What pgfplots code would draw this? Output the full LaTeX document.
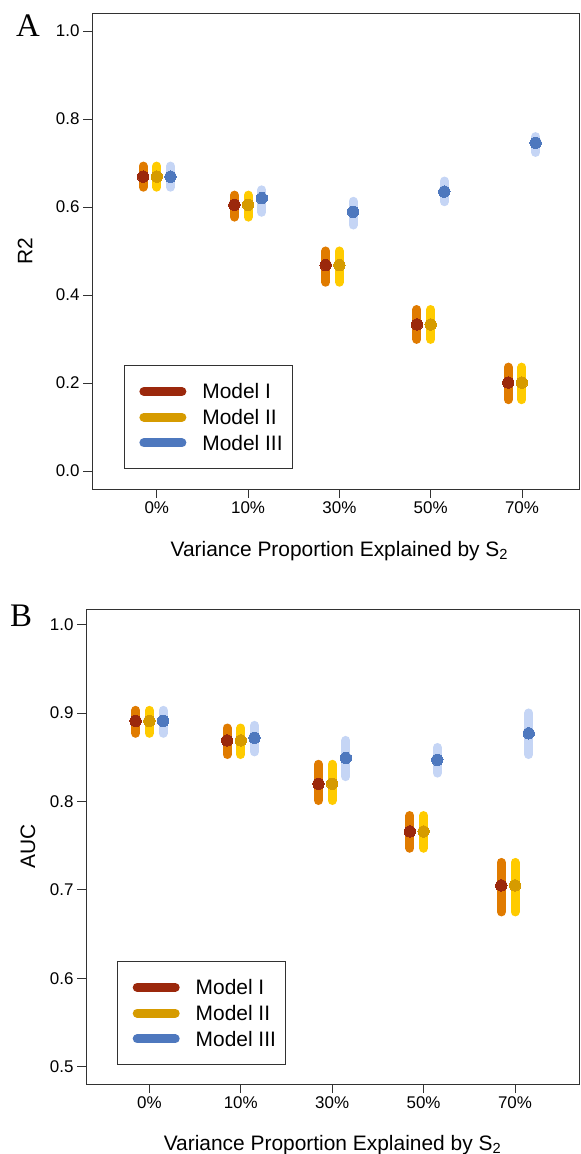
\documentclass[border=0pt]{standalone}
\usepackage{fontspec}
\setmainfont{Liberation Sans}
\newfontfamily\panelfont{Liberation Serif}
\usepackage{pgfplots}
\pgfplotsset{compat=1.18}
\usepackage{pgfplotstable}

\definecolor{dotI}{RGB}{155,40,12}
\definecolor{dotII}{RGB}{214,155,0}
\definecolor{dotIII}{RGB}{78,120,190}
\definecolor{barI}{RGB}{224,123,0}
\definecolor{barII}{RGB}{255,203,0}
\definecolor{barIII}{RGB}{197,213,245}
\definecolor{axgray}{RGB}{50,50,50}

% R2 panel: x, mean, upper and lower distance
\pgfplotstableread{
x y ep em
0.85 0.669 0.024 0.024
1.85 0.605 0.022 0.028
2.85 0.468 0.032 0.039
3.85 0.333 0.034 0.034
4.85 0.201 0.035 0.039
}\AmI
\pgfplotstableread{
x y ep em
1 0.669 0.024 0.024
2 0.605 0.022 0.028
3 0.468 0.032 0.039
4 0.333 0.034 0.034
5 0.201 0.035 0.039
}\AmII
\pgfplotstableread{
x y ep em
1.15 0.669 0.024 0.024
2.15 0.620 0.019 0.032
3.15 0.589 0.024 0.030
4.15 0.635 0.024 0.023
5.15 0.746 0.014 0.022
}\AmIII

% AUC panel
\pgfplotstableread{
x y ep em
0.85 0.891 0.012 0.014
1.85 0.869 0.014 0.016
2.85 0.820 0.022 0.019
3.85 0.766 0.018 0.019
4.85 0.705 0.026 0.030
}\BmI
\pgfplotstableread{
x y ep em
1 0.891 0.012 0.014
2 0.869 0.014 0.016
3 0.820 0.022 0.019
4 0.766 0.018 0.019
5 0.705 0.026 0.030
}\BmII
\pgfplotstableread{
x y ep em
1.15 0.891 0.012 0.014
2.15 0.872 0.014 0.016
3.15 0.849 0.020 0.021
4.15 0.847 0.014 0.015
5.15 0.877 0.023 0.024
}\BmIII

\pgfplotsset{
  panel/.style={
    scale only axis,
    clip=false,
    axis line style={axgray, line width=0.9bp},
    tick style={axgray, line width=0.9bp},
    tick align=outside,
    major tick length=9bp,
    xtick pos=bottom, ytick pos=left,
    xtick={1,2,3,4,5},
    xticklabels={0\%,10\%,30\%,50\%,70\%},
    ticklabel style={font=\fontsize{17}{20}\selectfont},
    yticklabel style={/pgf/number format/.cd, fixed, fixed zerofill, precision=1, assume math mode=true},
    label style={font=\fontsize{21}{24}\selectfont},
    xlabel={Variance Proportion Explained by S\textsubscript{2}},
    legend image code/.code={
      \path (0bp,0bp);
      \draw[line width=9bp, line cap=round, ##1] (11bp,0bp) -- (49bp,0bp);
    },
    legend style={
      anchor=north west, draw=axgray, line width=0.9bp,
      inner xsep=8bp, inner ysep=16.5bp, row sep=6.7bp, column sep=14bp,
      font=\fontsize{21}{24}\selectfont,
      nodes={inner sep=2bp, text height=15bp, text depth=0bp},
      cells={anchor=west},
    },
  },
  bars/.style={draw=none, mark=none, forget plot,
    error bars/.cd, y dir=both, y explicit, error mark=none,
    error bar style={line width=9bp, line cap=round, draw=#1}},
  dots/.style={only marks, mark=*, mark size=5.7bp, forget plot, color=#1,
    mark options={solid, draw=#1, fill=#1, line width=0bp}},
}

\begin{document}
\begin{tikzpicture}
\useasboundingbox (0,0) rectangle (581bp,1154bp);

\begin{axis}[panel,
  at={(92bp,665bp)}, anchor=south west,
  width=487bp, height=476bp,
  xmin=0.29, xmax=5.625,
  ymin=-0.041, ymax=1.041,
  ytick={0,0.2,0.4,0.6,0.8,1.0},
  ylabel={R2},
  ylabel style={at={(axis description cs:-0.1376,0.5)}, anchor=center},
  xlabel style={at={(axis description cs:0.508,-0.1408)}, anchor=base},
  legend style={at={(axis description cs:0.0657,0.2605)}},
]
\addplot[bars=barI] table[x=x, y=y, y error plus=ep, y error minus=em] {\AmI};
\addplot[dots=dotI] table[x=x, y=y] {\AmI};
\addplot[bars=barII] table[x=x, y=y, y error plus=ep, y error minus=em] {\AmII};
\addplot[dots=dotII] table[x=x, y=y] {\AmII};
\addplot[bars=barIII] table[x=x, y=y, y error plus=ep, y error minus=em] {\AmIII};
\addplot[dots=dotIII] table[x=x, y=y] {\AmIII};
\addlegendimage{draw=dotI}\addlegendentry{Model I}
\addlegendimage{draw=dotII}\addlegendentry{Model II}
\addlegendimage{draw=dotIII}\addlegendentry{Model III}
\node[font=\panelfont\fontsize{33}{36}\selectfont] at (axis description cs:-0.1314,0.9727) {A};
\end{axis}

\begin{axis}[panel,
  at={(86bp,70bp)}, anchor=south west,
  width=493bp, height=475bp,
  xmin=0.307, xmax=5.70,
  ymin=0.4804, ymax=1.0176,
  ytick={0.5,0.6,0.7,0.8,0.9,1.0},
  ylabel={AUC},
  ylabel style={at={(axis description cs:-0.118,0.5)}, anchor=center},
  xlabel style={at={(axis description cs:0.5,-0.1405)}, anchor=base},
  legend style={at={(axis description cs:0.0635,0.259)}},
]
\addplot[bars=barI] table[x=x, y=y, y error plus=ep, y error minus=em] {\BmI};
\addplot[dots=dotI] table[x=x, y=y] {\BmI};
\addplot[bars=barII] table[x=x, y=y, y error plus=ep, y error minus=em] {\BmII};
\addplot[dots=dotII] table[x=x, y=y] {\BmII};
\addplot[bars=barIII] table[x=x, y=y, y error plus=ep, y error minus=em] {\BmIII};
\addplot[dots=dotIII] table[x=x, y=y] {\BmIII};
\addlegendimage{draw=dotI}\addlegendentry{Model I}
\addlegendimage{draw=dotII}\addlegendentry{Model II}
\addlegendimage{draw=dotIII}\addlegendentry{Model III}
\node[font=\panelfont\fontsize{33}{36}\selectfont] at (axis description cs:-0.1318,0.9853) {B};
\end{axis}
\end{tikzpicture}
\end{document}
